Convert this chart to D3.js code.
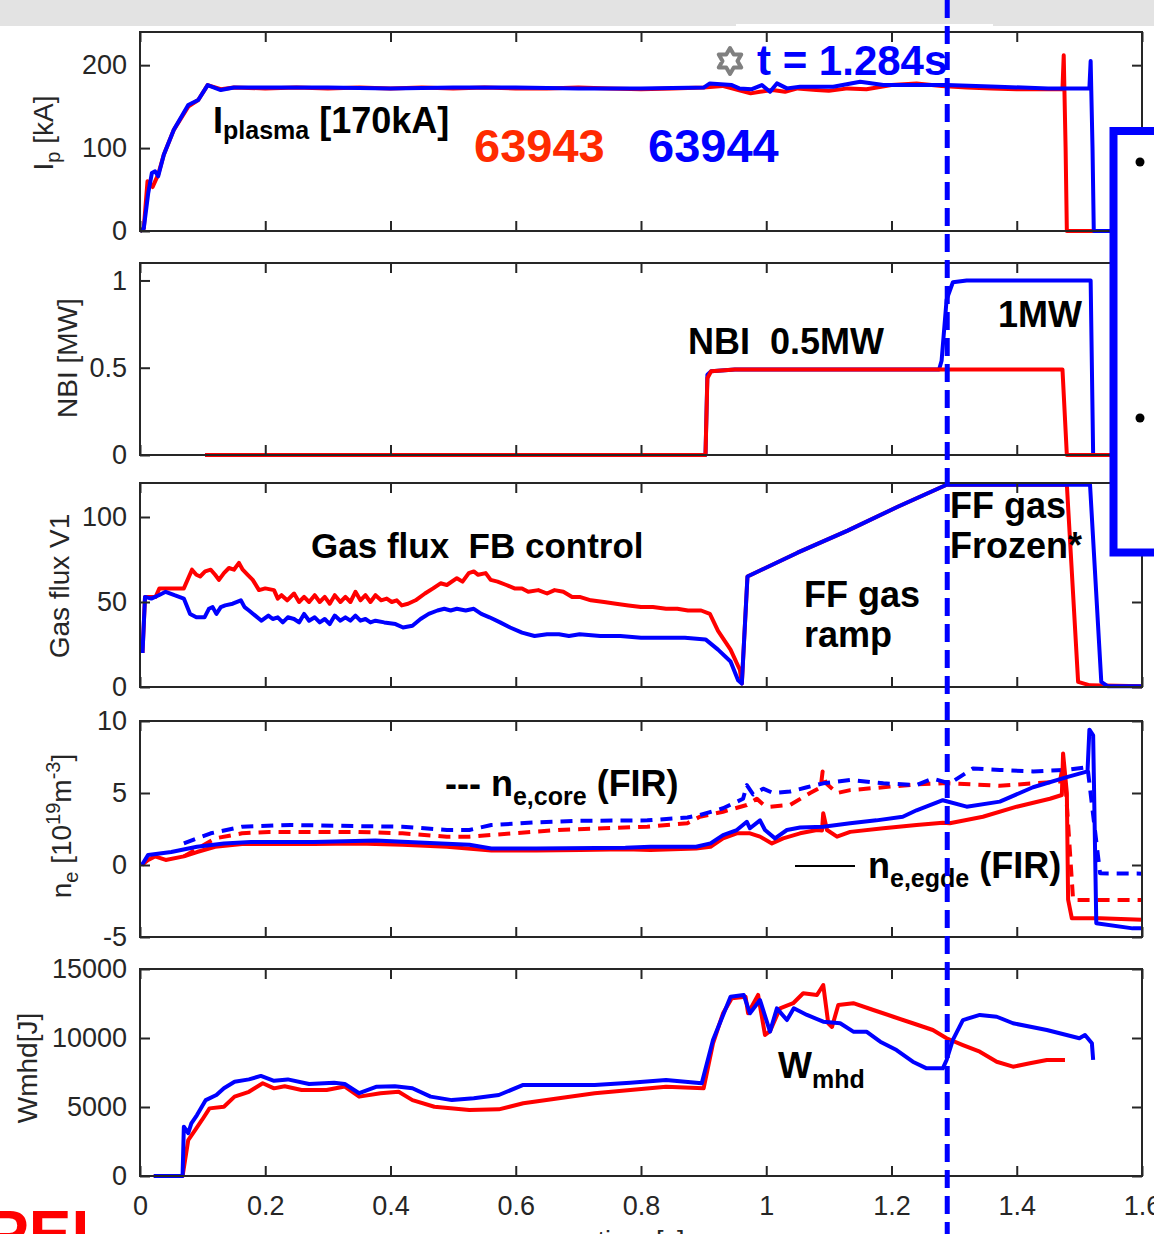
<!DOCTYPE html>
<html>
<head>
<meta charset="utf-8">
<script src="https://cdn.jsdelivr.net/npm/d3@7"></script>
<style>
  body { margin: 0; background: #fff; }
  svg text { font-family: "Liberation Sans", Arial, Helvetica, sans-serif; }
</style>
</head>
<body>
<div id="chart"></div>
<script>
// ---- data (shots 63943 red, 63944 blue), [time s, value]
const xTicks = [0, 0.2, 0.4, 0.6, 0.8, 1, 1.2, 1.4, 1.6]
const tMarker = 1.289

const ipTicks = [0, 100, 200]
const ipRed = [[0,0],[0.006,3],[0.012,60],[0.02,53],[0.029,68],[0.038,92],[0.054,122],[0.077,150],[0.093,158],[0.108,176],[0.129,171],[0.15,173],[0.2,172],[0.25,173],[0.3,172],[0.35,173],[0.4,172],[0.45,173],[0.5,172],[0.55,173],[0.6,172],[0.65,172],[0.7,173],[0.75,172],[0.8,171],[0.85,172],[0.9,173],[0.93,175],[0.96,169],[0.975,166],[0.99,168],[1.01,170],[1.03,168],[1.05,172],[1.08,170],[1.1,169],[1.13,172],[1.16,171],[1.2,176],[1.24,178],[1.28,175],[1.32,173],[1.36,172],[1.4,171],[1.44,171],[1.473,171],[1.475,212],[1.478,100],[1.48,0],[1.6,0]]
const ipBlue = [[0,0],[0.006,3],[0.013,45],[0.019,70],[0.024,72],[0.029,66],[0.038,92],[0.054,122],[0.077,152],[0.093,158],[0.108,176],[0.129,170],[0.15,173],[0.2,173],[0.3,173],[0.4,172],[0.5,173],[0.6,173],[0.7,172],[0.8,172],[0.9,173],[0.91,178],[0.945,176],[0.957,172],[0.977,171],[0.993,176],[1.006,168],[1.017,178],[1.033,172],[1.054,174],[1.107,174],[1.15,180],[1.187,176],[1.24,176],[1.288,176],[1.37,174],[1.45,172],[1.516,172],[1.518,205],[1.521,100],[1.523,0],[1.6,0]]

const nbiTicks = [0, 0.5, 1]
const nbiRed = [[0.104,0],[0.903,0],[0.906,0.44],[0.912,0.48],[0.95,0.49],[1.1,0.49],[1.3,0.49],[1.473,0.49],[1.48,0],[1.6,0]]
const nbiBlue = [[0.104,0],[0.903,0],[0.906,0.46],[0.912,0.48],[0.95,0.49],[1.1,0.49],[1.276,0.49],[1.28,0.54],[1.288,0.89],[1.298,0.99],[1.32,1.0],[1.4,1.0],[1.518,1.0],[1.522,0],[1.6,0]]

const gasTicks = [0, 50, 100]
const gasRed = [[0.004,20],[0.008,53],[0.025,53],[0.031,58],[0.07,58],[0.083,69],[0.09,66],[0.096,65],[0.104,68],[0.113,69],[0.12,66],[0.126,63],[0.134,67],[0.142,70],[0.15,69],[0.158,73],[0.164,69],[0.172,66],[0.18,63],[0.19,57],[0.2,58],[0.214,57],[0.22,52],[0.226,54],[0.235,51],[0.246,55],[0.254,50],[0.262,53],[0.27,50],[0.279,54],[0.287,50],[0.295,53],[0.303,49],[0.311,54],[0.32,50],[0.328,53],[0.336,50],[0.344,56],[0.352,51],[0.36,54],[0.368,50],[0.376,54],[0.385,51],[0.394,52],[0.402,50],[0.41,51],[0.418,48],[0.428,49],[0.44,51],[0.455,55],[0.468,58],[0.48,61],[0.49,60],[0.506,64],[0.515,62],[0.525,67],[0.533,68],[0.54,66],[0.552,67],[0.56,63],[0.571,62],[0.585,60],[0.598,58],[0.61,58],[0.62,56],[0.636,57],[0.65,55],[0.662,57],[0.676,56],[0.69,53],[0.702,53],[0.72,51],[0.741,50],[0.76,49],[0.78,48],[0.8,47],[0.819,47],[0.84,46],[0.858,46],[0.875,45],[0.896,45],[0.91,43],[0.923,33],[0.943,22],[0.958,10],[0.961,2],[0.97,65],[1.05,79],[1.13,92],[1.21,106],[1.288,119],[1.48,119],[1.498,3],[1.517,1],[1.6,0.5]]
const gasBlue = [[0.004,20],[0.008,53],[0.018,52],[0.03,54],[0.041,56],[0.055,54],[0.07,52],[0.08,43],[0.09,41],[0.103,41],[0.11,46],[0.116,47],[0.122,43],[0.129,47],[0.136,48],[0.148,49],[0.161,51],[0.167,47],[0.174,45],[0.184,42],[0.194,39],[0.205,42],[0.212,40],[0.22,41],[0.228,38],[0.236,41],[0.246,40],[0.254,38],[0.262,43],[0.27,39],[0.279,41],[0.287,38],[0.295,40],[0.303,37],[0.311,42],[0.32,39],[0.328,41],[0.336,39],[0.344,42],[0.352,39],[0.36,40],[0.368,38],[0.376,39],[0.39,38],[0.408,37],[0.42,35],[0.435,36],[0.448,40],[0.461,43],[0.475,45],[0.486,46],[0.496,45],[0.506,46],[0.52,45],[0.533,46],[0.545,43],[0.558,41],[0.575,38],[0.591,35],[0.61,32],[0.63,30],[0.65,31],[0.669,31],[0.685,30],[0.702,31],[0.735,30],[0.767,30],[0.8,29],[0.832,29],[0.87,29],[0.903,28],[0.923,22],[0.943,15],[0.955,4],[0.961,2],[0.97,65],[1.05,79],[1.13,92],[1.21,106],[1.288,119],[1.517,119],[1.535,3],[1.545,0.5],[1.6,0.5]]

const neTicks = [-5, 0, 5, 10]
const neEdgeRed = [[0.003,0],[0.013,0.35],[0.024,0.6],[0.041,0.35],[0.07,0.6],[0.091,0.9],[0.12,1.27],[0.163,1.46],[0.206,1.46],[0.277,1.46],[0.348,1.5],[0.419,1.4],[0.49,1.27],[0.561,1.0],[0.633,1.0],[0.703,1.04],[0.775,1.1],[0.815,1.04],[0.888,1.15],[0.911,1.27],[0.931,1.85],[0.953,2.2],[0.974,2.2],[0.99,1.97],[1.009,1.5],[1.027,1.85],[1.054,2.2],[1.081,2.43],[1.089,2.4],[1.091,3.6],[1.097,2.43],[1.113,1.97],[1.134,2.3],[1.187,2.55],[1.24,2.78],[1.282,2.94],[1.293,2.9],[1.346,3.35],[1.4,4.05],[1.453,4.6],[1.472,4.86],[1.474,7.75],[1.48,5.0],[1.482,-2.4],[1.488,-3.7],[1.533,-3.7],[1.6,-3.8]]
const neEdgeBlue = [[0.003,0],[0.013,0.7],[0.05,0.9],[0.091,1.27],[0.134,1.5],[0.177,1.6],[0.277,1.6],[0.376,1.7],[0.454,1.55],[0.526,1.4],[0.561,1.15],[0.633,1.15],[0.775,1.2],[0.815,1.27],[0.888,1.27],[0.911,1.5],[0.931,2.08],[0.953,2.43],[0.969,3.0],[0.974,2.55],[0.99,3.1],[0.998,2.43],[1.014,1.85],[1.033,2.43],[1.054,2.6],[1.091,2.66],[1.134,2.9],[1.176,3.1],[1.218,3.35],[1.24,3.8],[1.282,4.5],[1.32,4.05],[1.373,4.4],[1.426,5.4],[1.48,6.1],[1.513,6.5],[1.516,9.4],[1.522,9.0],[1.527,-4.05],[1.585,-4.4],[1.6,-4.4]]
const neCoreRed = [[0.07,0.6],[0.12,1.85],[0.163,2.2],[0.206,2.3],[0.277,2.3],[0.348,2.3],[0.419,2.2],[0.49,1.97],[0.526,1.97],[0.596,2.2],[0.668,2.43],[0.74,2.55],[0.81,2.66],[0.874,2.9],[0.894,3.35],[0.931,3.7],[0.969,4.17],[0.985,4.6],[0.995,4.2],[1.006,4.05],[1.038,4.17],[1.07,5.0],[1.087,5.4],[1.09,6.5],[1.095,5.7],[1.113,5.0],[1.134,5.2],[1.187,5.4],[1.24,5.6],[1.282,5.67],[1.293,5.67],[1.373,5.5],[1.469,5.8],[1.474,7.0],[1.478,5.5],[1.49,-2.43],[1.6,-2.43]]
const neCoreBlue = [[0.07,1.5],[0.113,2.2],[0.163,2.66],[0.241,2.78],[0.348,2.7],[0.419,2.66],[0.454,2.55],[0.49,2.43],[0.526,2.43],[0.561,2.78],[0.633,2.96],[0.703,3.07],[0.81,3.1],[0.874,3.3],[0.894,3.47],[0.931,3.94],[0.963,4.6],[0.969,5.55],[0.979,4.9],[0.995,5.3],[1.011,5.0],[1.038,5.1],[1.065,5.4],[1.091,5.67],[1.134,5.9],[1.187,5.67],[1.24,5.55],[1.266,6.0],[1.293,5.67],[1.33,6.7],[1.373,6.6],[1.426,6.5],[1.48,6.6],[1.513,6.8],[1.533,-0.58],[1.6,-0.6]]

const wTicks = [0, 5000, 10000, 15000]
const wRed = [[0.022,0],[0.068,0],[0.077,2600],[0.088,3330],[0.099,4060],[0.111,4900],[0.134,5020],[0.151,5750],[0.174,6100],[0.196,6720],[0.214,6350],[0.231,6500],[0.258,6230],[0.298,6230],[0.327,6480],[0.35,5750],[0.384,6000],[0.413,6100],[0.435,5500],[0.47,5020],[0.526,4780],[0.573,4830],[0.612,5270],[0.669,5630],[0.726,6000],[0.783,6230],[0.84,6470],[0.9,6350],[0.915,9620],[0.931,11790],[0.945,12880],[0.967,12990],[0.971,11790],[0.987,13120],[0.998,10220],[1.006,10500],[1.022,12150],[1.043,12520],[1.059,13240],[1.081,13120],[1.091,13840],[1.099,11070],[1.105,10800],[1.115,12390],[1.139,12520],[1.171,12030],[1.203,11540],[1.234,11070],[1.266,10580],[1.288,9980],[1.314,9490],[1.341,9010],[1.368,8280],[1.394,7920],[1.421,8170],[1.448,8410],[1.477,8410]]
const wBlue = [[0.022,0],[0.068,0],[0.07,3570],[0.077,3100],[0.082,3820],[0.091,4420],[0.105,5500],[0.122,5870],[0.134,6360],[0.151,6830],[0.174,7000],[0.193,7250],[0.214,6900],[0.236,7000],[0.27,6670],[0.31,6750],[0.327,6670],[0.35,6000],[0.378,6470],[0.407,6500],[0.435,6360],[0.464,5750],[0.498,5500],[0.533,5630],[0.573,5870],[0.612,6600],[0.669,6600],[0.726,6600],[0.783,6760],[0.84,6960],[0.897,6720],[0.915,9860],[0.943,12990],[0.964,13120],[0.974,11790],[0.99,12750],[1.006,10460],[1.017,12150],[1.033,11300],[1.044,12150],[1.065,11670],[1.091,11180],[1.118,11070],[1.139,10460],[1.16,10460],[1.182,9730],[1.208,9130],[1.234,8280],[1.256,7800],[1.282,7800],[1.288,8410],[1.298,9860],[1.314,11300],[1.341,11670],[1.368,11540],[1.394,11070],[1.448,10580],[1.5,9980],[1.509,10220],[1.52,9620],[1.522,8410]]

// ---- layout
const W = 1154, H = 1234
const RED = '#ff0000', BLUE = '#0000ff', AX = '#262626'
const x = d3.scaleLinear().domain([0, 1.6]).range([140, 1142])

const panels = [
  {id: 'ip', domain: [0, 240], range: [231, 32], ticks: ipTicks,
    series: [{d: ipRed, c: RED}, {d: ipBlue, c: BLUE}]},
  {id: 'nbi', domain: [0, 1.1], range: [455, 263], ticks: nbiTicks,
    series: [{d: nbiBlue, c: BLUE}, {d: nbiRed, c: RED}]},
  {id: 'gas', domain: [0, 120], range: [687, 483], ticks: gasTicks,
    series: [{d: gasRed, c: RED}, {d: gasBlue, c: BLUE}]},
  {id: 'ne', domain: [-5, 10], range: [937, 721], ticks: neTicks,
    series: [{d: neCoreRed, c: RED, dash: '12,8'}, {d: neCoreBlue, c: BLUE, dash: '12,8'},
      {d: neEdgeRed, c: RED}, {d: neEdgeBlue, c: BLUE}]},
  {id: 'w', domain: [0, 15000], range: [1176, 969], ticks: wTicks,
    series: [{d: wRed, c: RED}, {d: wBlue, c: BLUE}]}
]

const svg = d3.select('#chart').append('svg').attr('width', W).attr('height', H)
svg.append('rect').attr('width', W).attr('height', H).attr('fill', '#fff')
svg.append('rect').attr('width', W).attr('height', 26).attr('fill', '#e3e3e3')
svg.append('rect').attr('x', 736).attr('y', 24).attr('width', 257).attr('height', 8).attr('fill', '#fff')

panels.forEach((p, pi) => {
  let y = d3.scaleLinear().domain(p.domain).range(p.range)
  let top = p.range[1], bot = p.range[0]
  let g = svg.append('g').classed('panel ' + p.id, true)

  g.append('clipPath').attr('id', 'clip-' + p.id)
    .append('rect').attr('x', x.range()[0]).attr('y', top - 2)
    .attr('width', x.range()[1] - x.range()[0]).attr('height', bot - top + 4)

  let line = d3.line().x(d => x(d[0])).y(d => y(d[1]))
  let curves = g.append('g').attr('clip-path', `url(#clip-${p.id})`)
  p.series.forEach(s => {
    curves.append('path').datum(s.d).attr('d', line)
      .attr('fill', 'none').attr('stroke', s.c).attr('stroke-width', 4)
      .attr('stroke-linejoin', 'round')
      .attr('stroke-dasharray', s.dash || null)
  })

  // axes, ticks pointing inward on all sides
  let styleAxis = a => {
    a.select('.domain').remove()
    a.selectAll('line').attr('stroke', AX).attr('stroke-width', 2)
    a.selectAll('text').attr('fill', AX).attr('font-size', 27).attr('font-family', null)
  }
  g.append('g').attr('transform', `translate(${x.range()[0]},0)`)
    .call(d3.axisLeft(y).tickValues(p.ticks).tickFormat(d => String(d)).tickSize(-10).tickPadding(13))
    .call(styleAxis)
  g.append('g').attr('transform', `translate(${x.range()[1]},0)`)
    .call(d3.axisRight(y).tickValues(p.ticks).tickFormat('').tickSize(-10))
    .call(styleAxis)
  g.append('g').attr('transform', `translate(0,${top})`)
    .call(d3.axisTop(x).tickValues(xTicks).tickFormat('').tickSize(-10))
    .call(styleAxis)
  g.append('g').attr('transform', `translate(0,${bot})`)
    .call(d3.axisBottom(x).tickValues(xTicks).tickFormat(pi === panels.length - 1 ? (d => String(d)) : '').tickSize(-10).tickPadding(20))
    .call(styleAxis)

  g.append('rect').attr('x', x.range()[0]).attr('y', top)
    .attr('width', x.range()[1] - x.range()[0]).attr('height', bot - top)
    .attr('fill', 'none').attr('stroke', AX).attr('stroke-width', 2)
})

// ---- y labels (rotated), pieces: [text, size, dy]
function yLabel (cx, cy, parts) {
  let t = svg.append('text').attr('transform', `translate(${cx},${cy}) rotate(-90)`)
    .attr('text-anchor', 'middle').attr('fill', AX).style('white-space', 'pre')
  parts.forEach(pt => t.append('tspan').text(pt[0]).attr('font-size', pt[1]).attr('dy', pt[2] || 0))
}
yLabel(53, 133, [['I', 28], ['p', 20, 7], [' [kA]', 28, -7]])
yLabel(77, 358, [['NBI [MW]', 28]])
yLabel(69, 586, [['Gas flux V1', 28]])
yLabel(71, 826, [['n', 28], ['e', 20, 7], [' [10', 28, -7], ['19', 20, -11], ['m', 28, 11], ['-3', 20, -11], [']', 28, 11]])
yLabel(37, 1068, [['Wmhd[J]', 28]])

// x label, mostly cut off at the bottom edge (as in the source figure)
svg.append('text').attr('x', 641).attr('y', 1250).attr('text-anchor', 'middle')
  .attr('font-size', 27).attr('fill', AX).text('time [s]')

// ---- annotations
function note (xp, yp, parts, color) {
  let t = svg.append('text').attr('x', xp).attr('y', yp).attr('font-weight', 'bold')
    .attr('fill', color || '#000').style('white-space', 'pre')
  parts.forEach(pt => t.append('tspan').text(pt[0]).attr('font-size', pt[1]).attr('dy', pt[2] || 0))
}
note(213, 133, [['I', 36], ['plasma', 25, 6], [' [170kA]', 36, -6]])
note(474, 162, [['63943', 47]], '#ff2a00')
note(648, 162, [['63944', 47]], BLUE)
note(757, 75, [['t = 1.284s', 42]], BLUE)
note(688, 354, [['NBI  0.5MW', 36]])
note(998, 327, [['1MW', 36]])
note(311, 558, [['Gas flux  FB control', 35]])
note(804, 607, [['FF gas', 36]])
note(804, 647, [['ramp', 36]])
note(950, 518, [['FF gas', 36]])
note(950, 558, [['Frozen*', 36]])
note(445, 796, [['--- n', 36], ['e,core', 25, 9], [' (FIR)', 36, -9]])
svg.append('line').attr('x1', 795).attr('x2', 855).attr('y1', 866).attr('y2', 866)
  .attr('stroke', '#000').attr('stroke-width', 2)
note(868, 878, [['n', 36], ['e,egde', 25, 9], [' (FIR)', 36, -9]])
note(778, 1078, [['W', 36], ['mhd', 25, 10]])

// hexagram marker next to the time label
let star = d3.range(12).map(i => {
  let a = i * Math.PI / 6, r = i % 2 ? 7.5 : 13
  return [730 + r * Math.sin(a), 61 - r * Math.cos(a)]
})
svg.append('path').attr('d', d3.line()(star) + 'Z')
  .attr('fill', '#fff').attr('stroke', '#808080').attr('stroke-width', 4).attr('stroke-linejoin', 'round')

// time marker
svg.append('line').attr('x1', x(tMarker)).attr('x2', x(tMarker)).attr('y1', 0).attr('y2', H)
  .attr('stroke', BLUE).attr('stroke-width', 5).attr('stroke-dasharray', '18,8')

// clipped box on the right
svg.append('rect').attr('x', 1113.5).attr('y', 131).attr('width', 80).attr('height', 421.5)
  .attr('fill', '#fff').attr('stroke', BLUE).attr('stroke-width', 8)
svg.selectAll('.bullet').data([162, 418]).enter().append('circle').classed('bullet', true)
  .attr('cx', 1140).attr('cy', d => d).attr('r', 4.5).attr('fill', '#000')

// logo fragment at bottom-left
svg.append('text').attr('x', -14).attr('y', 1256).attr('font-size', 64).attr('font-weight', 'bold')
  .attr('fill', '#ff0000').text('PEI')
</script>
</body>
</html>
